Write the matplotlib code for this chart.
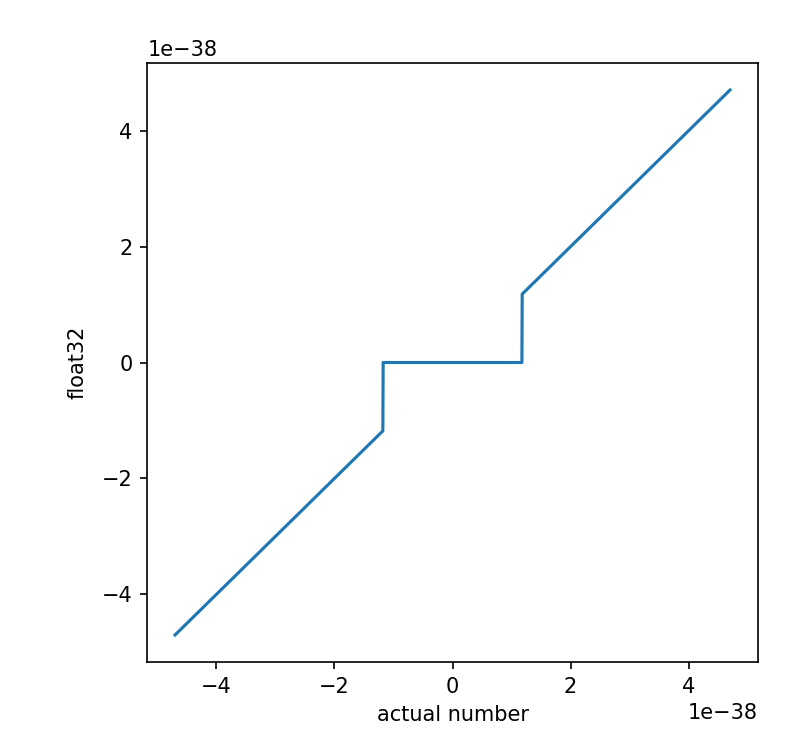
import matplotlib
matplotlib.use("Agg")
import matplotlib.pyplot as plt

# values (x = actual number, y = float32 result)
actual = [-4.7e-38, -1.18e-38, -1.175e-38, 1.175e-38, 1.18e-38, 4.7e-38]
float32 = [-4.7e-38, -1.18e-38, 0.0, 0.0, 1.18e-38, 4.7e-38]

fig = plt.figure(figsize=(796 / 150, 756 / 150), dpi=150)
ax = fig.add_axes([0.185, 0.124, 0.767, 0.793])
ax.plot(actual, float32, color='#1f77b4')
ax.set_xlabel('actual number')
ax.set_ylabel('float32', labelpad=7)
fig.savefig('out.png', dpi=150)
